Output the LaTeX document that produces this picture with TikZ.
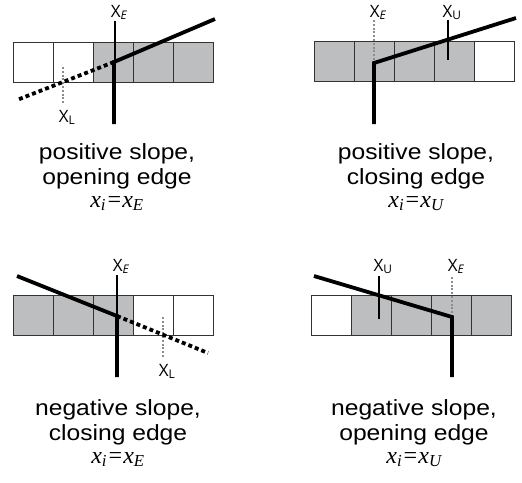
\documentclass[tikz,border=0pt]{standalone}
\usepackage{fontspec}
\setmainfont{Liberation Sans}[FakeStretch=1.12]
\newfontfamily\lblfont{Open Sans}
\newfontfamily\mathserif{Liberation Serif}
\definecolor{cellgray}{HTML}{BDBEC0}
\definecolor{cellline}{HTML}{333333}
\definecolor{dotgray}{HTML}{8C8C8C}
\begin{document}
\begin{tikzpicture}[x=1pt,y=-1pt,
  cell/.style={draw=cellline,line width=0.9pt,minimum width=40pt,minimum height=40pt,inner sep=0pt,anchor=north west},
  full/.style={cell,fill=cellgray},
  empty/.style={cell,fill=white},
  thickline/.style={line width=3.8pt,black},
  thickdash/.style={line width=3.8pt,black,dash pattern=on 4pt off 3pt},
  thinline/.style={line width=1.3pt,black},
  graydot/.style={line width=2.6pt,dotgray,dash pattern=on 2pt off 1.8pt},
  lbl/.style={font=\lblfont\fontsize{17}{17}\selectfont,inner sep=0pt,anchor=base},
  caption/.style={font=\fontsize{22}{22}\selectfont,inner sep=0pt,anchor=base},
  formula/.style={font=\mathserif\itshape\fontsize{24}{24}\selectfont,inner sep=0pt,anchor=base}]
\useasboundingbox (0,0) rectangle (522,482);
% ---------- panel 1 ----------
\node[empty] (a1) at (13,42) {};
\node[empty] (a2) at (53,42) {};
\node[full] (a3) at (93,42) {};
\node[full] (a4) at (133,42) {};
\node[full] (a5) at (173,42) {};
\coordinate (aJ) at (114,62);
\coordinate (aT) at (215,19);
\coordinate (aB) at (114,124);
\coordinate (aD) at (17,100);
\coordinate (aE1) at (115,21);
\coordinate (aE2) at (115,62);
\coordinate (aL1) at (63,67);
\coordinate (aL2) at (63,103);
\draw[graydot] (aL1) -- (aL2);
\draw[thinline] (aE1) -- (aE2);
\draw[thickdash] (aJ) -- (aD);
\draw[thickline] (aT) -- (aJ) -- (aB);
\node[lbl] (aXE) at (119,17) {X\textsubscript{\itshape E}};
\node[lbl] (aXL) at (67,122) {X\textsubscript{L}};
\node[caption] (acap1) at (117,159) {positive slope,};
\node[caption] (acap2) at (117,184) {opening edge};
\node[formula] (afor) at (117,207) {x\textsubscript{i}=x\textsubscript{E}};
% ---------- panel 2 ----------
\node[full] (b1) at (314,41) {};
\node[full] (b2) at (354,41) {};
\node[full] (b3) at (394,41) {};
\node[full] (b4) at (434,41) {};
\node[empty] (b5) at (474,41) {};
\coordinate (bJ) at (374,63);
\coordinate (bT) at (516,18);
\coordinate (bB) at (374,124);
\coordinate (bE1) at (374,20);
\coordinate (bU1) at (448,20);
\coordinate (bU2) at (448,60);
\draw[graydot] (bE1) -- (bJ);
\draw[thinline] (bU1) -- (bU2);
\draw[thickline] (bT) -- (bJ) -- (bB);
\node[lbl] (bXE) at (378,17) {X\textsubscript{\itshape E}};
\node[lbl] (bXU) at (452,17) {X\textsubscript{U}};
\node[caption] (bcap1) at (416,159) {positive slope,};
\node[caption] (bcap2) at (416,184) {closing edge};
\node[formula] (bfor) at (416,207) {x\textsubscript{i}=x\textsubscript{U}};
% ---------- panel 3 ----------
\node[full] (c1) at (13,295) {};
\node[full] (c2) at (53,295) {};
\node[full] (c3) at (93,295) {};
\node[empty] (c4) at (133,295) {};
\node[empty] (c5) at (173,295) {};
\coordinate (cJ) at (117,316);
\coordinate (cT) at (17,276);
\coordinate (cB) at (117,377);
\coordinate (cD) at (208,353);
\coordinate (cE1) at (117,275);
\coordinate (cL1) at (163,317);
\coordinate (cL2) at (163,357);
\draw[graydot] (cL1) -- (cL2);
\draw[thinline] (cE1) -- (cJ);
\draw[thickdash] (cJ) -- (cD);
\draw[thickline] (cT) -- (cJ) -- (cB);
\node[lbl] (cXE) at (121,271) {X\textsubscript{\itshape E}};
\node[lbl] (cXL) at (167,376) {X\textsubscript{L}};
\node[caption] (ccap1) at (118,415) {negative slope,};
\node[caption] (ccap2) at (118,440) {closing edge};
\node[formula] (cfor) at (118,463) {x\textsubscript{i}=x\textsubscript{E}};
% ---------- panel 4 ----------
\node[empty] (d1) at (311,295) {};
\node[full] (d2) at (351,295) {};
\node[full] (d3) at (391,295) {};
\node[full] (d4) at (431,295) {};
\node[full] (d5) at (471,295) {};
\coordinate (dJ) at (452,317);
\coordinate (dT) at (314,276);
\coordinate (dB) at (452,377);
\coordinate (dU1) at (379,276);
\coordinate (dU2) at (379,319);
\coordinate (dE1) at (452,277);
\draw[graydot] (dE1) -- (dJ);
\draw[thinline] (dU1) -- (dU2);
\draw[thickline] (dT) -- (dJ) -- (dB);
\node[lbl] (dXU) at (383,271) {X\textsubscript{U}};
\node[lbl] (dXE) at (456,271) {X\textsubscript{\itshape E}};
\node[caption] (dcap1) at (414,415) {negative slope,};
\node[caption] (dcap2) at (414,440) {opening edge};
\node[formula] (dfor) at (414,463) {x\textsubscript{i}=x\textsubscript{U}};
\end{tikzpicture}
\end{document}
